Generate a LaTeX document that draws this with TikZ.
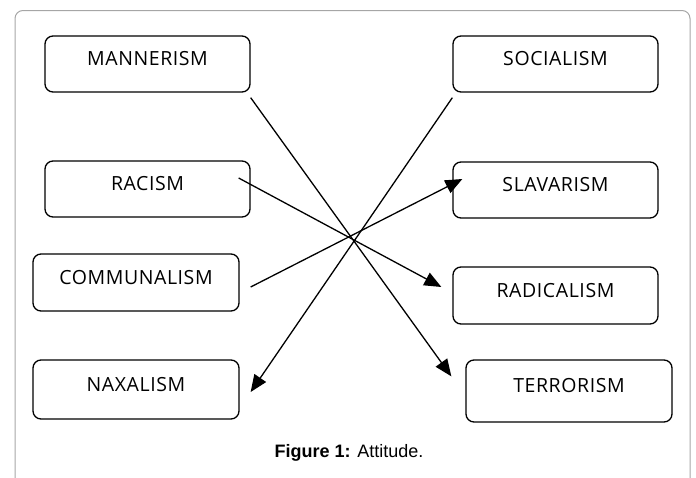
\documentclass[tikz,border=0pt]{standalone}
\usepackage{fontspec}
\setmainfont{Open Sans}
\newfontfamily\boxfont[LetterSpace=3]{Open Sans}
\newfontfamily\capfont{Liberation Sans}
\usetikzlibrary{arrows.meta}

\definecolor{framegray}{HTML}{A6A6A6}

\begin{document}
\begin{tikzpicture}[
    x=1pt, y=-1pt,
    every node/.style={font=\boxfont\fontsize{19.5}{23}\selectfont},
    termbox/.style={draw, line width=1.3pt, rounded corners=8pt,
        minimum width=205pt, minimum height=56pt, inner sep=0pt,
        text height=13pt, text depth=10pt},
    link/.style={line width=1.3pt, -{Triangle[length=17pt, width=14pt]}},
    caption/.style={font=\capfont\fontsize{18}{21}\selectfont}]

\useasboundingbox (0,0) rectangle (696,477);

% outer frame, open at the bottom
\draw[framegray, line width=1pt, rounded corners=8pt]
    (15,480) |- (690,10.5) -- (690,480);

% left column
\node[termbox] (mann) at (147.5,64)  {MANNERISM};
\node[termbox] (rac)  at (147.5,189) {RACISM};
\node[termbox, minimum width=206pt, minimum height=57pt] (comm) at (136,282.5) {COMMUNALISM};
\node[termbox, minimum width=206pt, minimum height=59pt] (nax)  at (136,389.5) {NAXALISM};

% right column
\node[termbox] (soc)  at (555.5,64)  {SOCIALISM};
\node[termbox] (slav) at (555.5,190) {SLAVARISM};
\node[termbox, minimum height=57pt] (rad)  at (555.5,295.5) {RADICALISM};
\node[termbox, minimum width=206pt, minimum height=62pt] (terr) at (569,391) {TERRORISM};

% crossing links
\draw[link] ([shift={(0,5)}]mann.south east)   -- ([shift={(-14,17)}]terr.north west);
\draw[link] ([shift={(-12,-11)}]rac.east)      -- ([shift={(-11,-8.5)}]rad.west);
\draw[link] ([shift={(11,4.5)}]comm.east)      -- ([shift={(10,-11)}]slav.west);
\draw[link] ([shift={(0,5)}]soc.south west)    -- ([shift={(11,2.5)}]nax.east);

\node[caption] (cap) at (349,453) {\textbf{Figure 1:} Attitude.};

\end{tikzpicture}
\end{document}
